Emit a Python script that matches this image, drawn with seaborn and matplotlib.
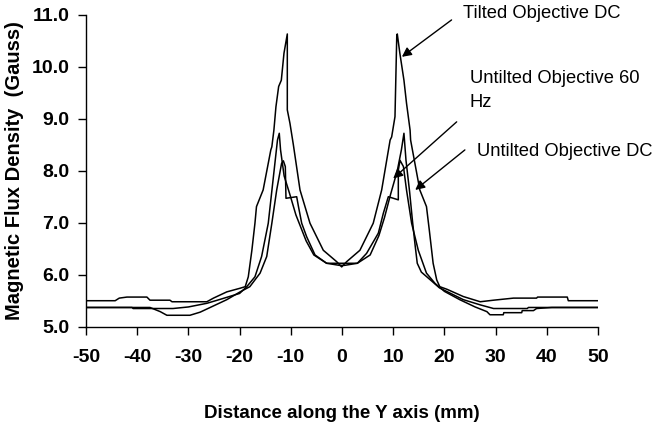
import matplotlib
matplotlib.use("Agg")
import matplotlib.pyplot as plt
import seaborn as sns
import numpy as np

# Magnetic flux density profiles along the Y axis (mm -> Gauss)
tilted_dc_x = [-50, -44.3, -43.5, -42.0, -38.1, -37.5, -33.6, -33.2, -26.4, -25.1, -22.5, -19.9,
               -18.9, -18.3, -17.6, -17.0, -16.7, -15.4, -13.9, -13.7, -13.3, -12.9, -12.37, -11.85,
               -11.33, -10.68, -10.68, -10.16, -9.5, -8.2, -6.25, -3.65, -1.03, -0.06, 0.9, 3.5,
               6.1, 7.75, 9.4, 9.7, 10.35, 10.7, 10.8, 11.3, 12.1, 12.6, 13.3, 13.4, 15.2, 16.5,
               17.05, 17.8, 18.5, 19.1, 20.5, 23.7, 27.0, 29.6, 33.5, 38.0, 38.2, 44.0, 44.2, 50]
tilted_dc_y = [5.50, 5.50, 5.55, 5.57, 5.57, 5.51, 5.51, 5.48, 5.48, 5.55, 5.67, 5.74,
               5.77, 5.96, 6.47, 6.99, 7.31, 7.63, 8.40, 8.46, 8.78, 9.23, 9.62, 9.74,
               10.26, 10.63, 9.17, 8.91, 8.50, 7.63, 6.99, 6.47, 6.25, 6.15, 6.25, 6.47,
               6.99, 7.63, 8.59, 8.65, 9.04, 10.60, 10.63, 10.26, 9.74, 9.30, 8.78, 8.59, 7.63, 7.31,
               6.86, 6.22, 5.90, 5.77, 5.72, 5.58, 5.48, 5.51, 5.55, 5.55, 5.57, 5.57, 5.50, 5.50]

untilted_dc_x = [-50, -41.0, -40.8, -33.0, -30.0, -26.4, -24.0, -20.0, -18.6, -17.0, -15.7, -14.4,
                 -12.6, -12.25, -12.0, -11.3, -10.2, -9.0, -7.0, -5.5, -3.0, -0.5, 0.5, 3.0,
                 5.5, 7.2, 8.3, 9.5, 10.8, 11.6, 12.1, 12.5, 13.2, 13.8, 14.3, 14.7,
                 15.5, 17.5, 19.0, 20.0, 23.7, 27.0, 29.6, 36.2, 36.4, 50]
untilted_dc_y = [5.37, 5.37, 5.35, 5.35, 5.38, 5.45, 5.52, 5.64, 5.77, 5.96, 6.35, 6.99,
                 8.59, 8.72, 8.40, 7.90, 7.55, 7.15, 6.65, 6.38, 6.22, 6.18, 6.18, 6.22,
                 6.38, 6.75, 7.10, 7.55, 8.00, 8.40, 8.72, 8.20, 7.60, 7.00, 6.55, 6.22,
                 6.05, 5.88, 5.75, 5.70, 5.52, 5.42, 5.35, 5.35, 5.37, 5.37]

untilted_60hz_x = [-50, -37.5, -35.5, -34.2, -29.7, -27.7, -25.1, -22.5, -19.9, -18.0, -16.0, -14.7,
                   -13.7, -12.75, -11.8, -11.45, -11.07, -10.94, -8.85, -8.5, -7.87, -6.9, -5.27, -3.0,
                   3.0, 4.8, 7.1, 8.07, 9.05, 11.0, 11.0, 11.33, 12.0, 12.6, 13.6, 14.9,
                   16.5, 18.2, 20.0, 23.0, 26.0, 28.3, 28.9, 31.5, 31.6, 35.1, 35.2, 37.4,
                   38.0, 41.0, 50]
untilted_60hz_y = [5.37, 5.37, 5.29, 5.22, 5.22, 5.28, 5.40, 5.52, 5.67, 5.77, 6.03, 6.35,
                   6.99, 7.63, 8.14, 8.19, 8.08, 7.47, 7.50, 7.31, 6.99, 6.73, 6.38, 6.22,
                   6.22, 6.41, 6.80, 7.18, 7.50, 7.44, 8.01, 8.20, 8.08, 7.63, 6.99, 6.47,
                   6.03, 5.83, 5.68, 5.52, 5.38, 5.29, 5.23, 5.23, 5.27, 5.27, 5.31, 5.31,
                   5.35, 5.37, 5.37]

x_ticks = [-50, -40, -30, -20, -10, 0, 10, 20, 30, 40, 50]
y_ticks = [5.0, 6.0, 7.0, 8.0, 9.0, 10.0, 11.0]

sns.set_style("white")
plt.rcParams["font.family"] = ["Liberation Sans", "DejaVu Sans"]
plt.rcParams["text.color"] = "black"
plt.rcParams["axes.labelcolor"] = "black"
plt.rcParams["xtick.color"] = "black"
plt.rcParams["ytick.color"] = "black"

fig = plt.figure(figsize=(6.66, 4.22), dpi=100)
ax = fig.add_axes([0.1291, 0.2258, 0.7688, 0.7393])

for xs, ys in [(tilted_dc_x, tilted_dc_y),
               (untilted_dc_x, untilted_dc_y),
               (untilted_60hz_x, untilted_60hz_y)]:
    sns.lineplot(x=xs, y=ys, ax=ax, sort=False, estimator=None,
                 color="black", linewidth=1.1)

ax.set_xlim(-50, 50)
ax.set_ylim(5.0, 11.0)
ax.set_xticks(x_ticks)
ax.set_xticklabels([str(t) for t in x_ticks])
ax.set_yticks(y_ticks)
ax.set_yticklabels([f"{t:.1f}" for t in y_ticks])
sns.despine(ax=ax)
for side in ("left", "bottom"):
    ax.spines[side].set_color("black")
    ax.spines[side].set_linewidth(1.0)
ax.tick_params(axis="both", which="major", direction="out", length=6, width=1.0,
               color="black", labelcolor="black", labelsize=14, bottom=True, left=True)
ax.tick_params(axis="x", pad=10)
ax.tick_params(axis="y", pad=6)
for lab in ax.get_xticklabels() + ax.get_yticklabels():
    lab.set_fontweight("bold")

ax.set_xlabel("Distance along the Y axis (mm)", fontsize=13.5, fontweight="bold", labelpad=28)
ax.set_ylabel("Magnetic Flux Density  (Gauss)", fontsize=14.5, fontweight="bold", labelpad=5)

# Curve callouts
arrow = dict(arrowstyle="-|>", color="black", lw=1.0, mutation_scale=14, shrinkA=0, shrinkB=0)
ax.annotate("", xy=(11.7, 10.19), xytext=(21.4, 10.9), arrowprops=arrow, annotation_clip=False)
ax.text(23.6, 11.03, "Tilted Objective DC", fontsize=13.2, va="center", ha="left", clip_on=False)

ax.annotate("", xy=(10.0, 7.85), xytext=(22.4, 8.94), arrowprops=arrow, annotation_clip=False)
ax.text(25.0, 9.55, "Untilted Objective 60\nHz", fontsize=13.2, va="center", ha="left",
        linespacing=1.55, clip_on=False)

ax.annotate("", xy=(14.3, 7.63), xytext=(24.0, 8.4), arrowprops=arrow, annotation_clip=False)
ax.text(26.3, 8.37, "Untilted Objective DC", fontsize=13.2, va="center", ha="left", clip_on=False)

fig.savefig("out.png", dpi=100)
